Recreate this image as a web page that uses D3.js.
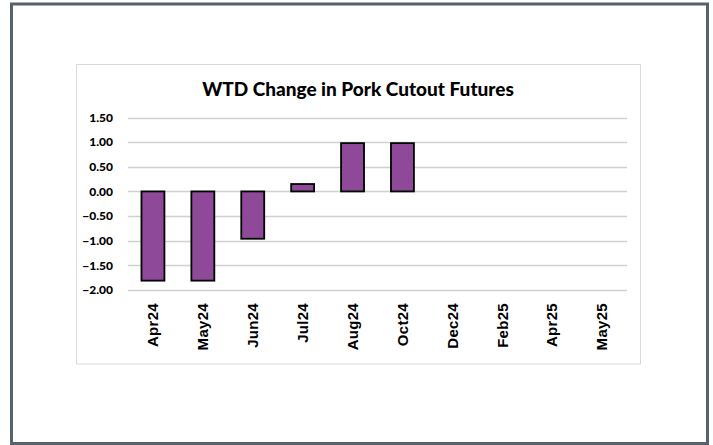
<!DOCTYPE html>
<html>
<head>
<meta charset="utf-8">
<script src="https://cdn.jsdelivr.net/npm/d3@7"></script>
<style>
  html, body { margin: 0; padding: 0; background: #fff; }
  svg { display: block; }
</style>
</head>
<body>
<svg id="chart" width="713" height="445"></svg>
<script>
const title = "WTD Change in Pork Cutout Futures";
const categories = ["Apr24","May24","Jun24","Jul24","Aug24","Oct24","Dec24","Feb25","Apr25","May25"];
const values = [-1.81, -1.81, -0.96, 0.15, 0.98, 0.98, null, null, null, null];
const yTicks = [-2.0, -1.5, -1.0, -0.5, 0.0, 0.5, 1.0, 1.5];

const svg = d3.select("#chart");

// outer frame
svg.append("rect").attr("x", 11.5).attr("y", 4).attr("width", 696).attr("height", 439.5)
  .attr("fill", "#fff").attr("stroke", "#56636d").attr("stroke-width", 3);

// chart area box
svg.append("rect").attr("x", 76.5).attr("y", 64.5).attr("width", 564).attr("height", 299.5)
  .attr("fill", "#fff").attr("stroke", "#d9d9d9").attr("stroke-width", 1);

const plot = { left: 128, right: 627, top: 117.5, bottom: 290 };

const x = d3.scaleBand().domain(categories).range([plot.left, plot.right]).paddingInner(0.54).paddingOuter(0.27);
const y = d3.scaleLinear().domain([-2, 1.5]).range([plot.bottom, plot.top]);

// gridlines
svg.append("g").selectAll("line").data(yTicks).join("line")
  .attr("x1", plot.left).attr("x2", plot.right)
  .attr("y1", d => Math.round(y(d)) + 0.5).attr("y2", d => Math.round(y(d)) + 0.5)
  .attr("stroke", "#d0d0d0").attr("stroke-width", 1.3);

// y axis labels
const yAxis = d3.axisLeft(y).tickValues(yTicks).tickFormat(d3.format(".2f")).tickSize(0).tickPadding(0);
const gy = svg.append("g").attr("transform", `translate(113,0)`).call(yAxis);
gy.select(".domain").remove();
gy.selectAll("text").attr("font-family", "Lato, 'Liberation Sans', sans-serif")
  .attr("font-weight", "900").attr("font-size", "12px").attr("fill", "#000");

// bars
svg.append("g").selectAll("rect").data(categories.map((c, i) => ({ c, v: values[i] })).filter(d => d.v !== null))
  .join("rect")
  .attr("x", d => x(d.c))
  .attr("width", x.bandwidth())
  .attr("y", d => y(Math.max(0, d.v)))
  .attr("height", d => Math.abs(y(d.v) - y(0)))
  .attr("fill", "#8e4a98")
  .attr("stroke", "#000").attr("stroke-width", 1.8);

// x axis labels
const xAxis = d3.axisBottom(x).tickSize(0).tickPadding(0);
const gx = svg.append("g").attr("transform", `translate(0,${plot.bottom})`).call(xAxis);
gx.select(".domain").remove();
gx.selectAll("text")
  .attr("font-family", "'Liberation Sans', Arial, sans-serif")
  .attr("font-weight", "bold").attr("font-size", "15px").attr("fill", "#000")
  .attr("letter-spacing", "0.3px")
  .attr("text-anchor", "end")
  .attr("dy", "0.35em")
  .attr("transform", "translate(0,13) rotate(-90)")
  .attr("x", 0).attr("y", 0);

// title
svg.append("text").attr("x", 358).attr("y", 96).attr("text-anchor", "middle")
  .attr("font-family", "Lato, 'Open Sans', sans-serif").attr("font-weight", "900")
  .attr("font-size", "19px").attr("fill", "#000").text(title);
</script>
</body>
</html>
